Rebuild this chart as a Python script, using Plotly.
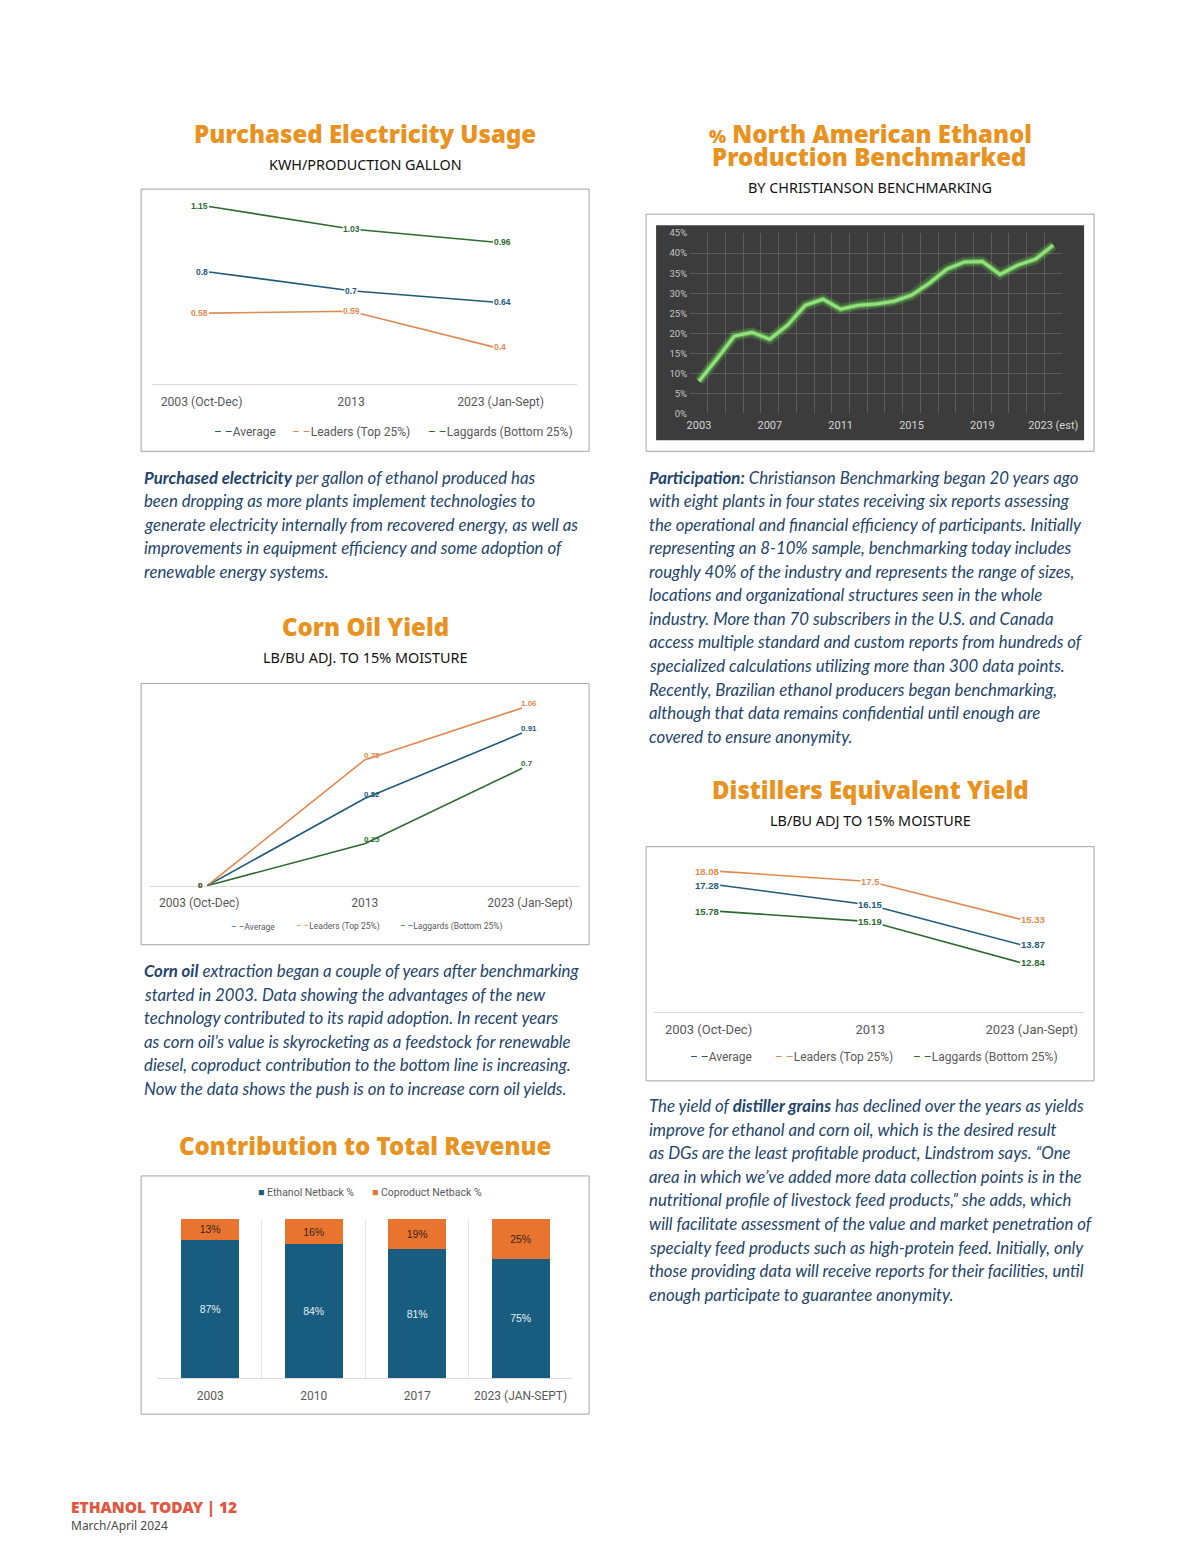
import plotly.graph_objects as go

# figure size and placement calibration (page px -> figure paper coords)
OX, OY = 8, 8
FW, FH = 1184, 1537
SX, CX = 0.984, 3.0
SY, CY = 0.992, 7.1

# ---------------- data ----------------
series_names = ["Average", "Leaders (Top 25%)", "Laggards (Bottom 25%)"]

elec_cats = ["2003 (Oct-Dec)", "2013", "2023 (Jan-Sept)"]
elec_avg = [0.8, 0.7, 0.64]
elec_leaders = [0.58, 0.59, 0.4]
elec_laggards = [1.15, 1.03, 0.96]

na_years = [2003, 2004, 2005, 2006, 2007, 2008, 2009, 2010, 2011, 2012, 2013,
            2014, 2015, 2016, 2017, 2018, 2019, 2020, 2021, 2022, 2023]
na_share = [8.0, 13.5, 19.3, 20.2, 18.5, 22.0, 27.0, 28.5, 26.0, 27.0, 27.3,
            28.0, 29.5, 32.5, 36.0, 37.8, 37.9, 34.7, 37.0, 38.5, 42.0]
na_tick_years = [2003, 2007, 2011, 2015, 2019, 2023]
na_tick_labels = ["2003", "2007", "2011", "2015", "2019", "2023 (est)"]
na_pct_ticks = [0, 5, 10, 15, 20, 25, 30, 35, 40, 45]
na_pct_labels = ["0%", "5%", "10%", "15%", "20%", "25%", "30%", "35%", "40%", "45%"]

corn_cats = ["2003 (Oct-Dec)", "2013", "2023 (Jan-Sept)"]
corn_avg = [0, 0.52, 0.91]
corn_leaders = [0, 0.75, 1.06]
corn_laggards = [0, 0.25, 0.7]

dist_cats = ["2003 (Oct-Dec)", "2013", "2023 (Jan-Sept)"]
dist_avg = [17.28, 16.15, 13.87]
dist_leaders = [18.08, 17.5, 15.33]
dist_laggards = [15.78, 15.19, 12.84]

rev_cats = ["2003", "2010", "2017", "2023 (JAN-SEPT)"]
rev_ethanol = [87, 84, 81, 75]
rev_coproduct = [13, 16, 19, 25]
rev_names = ["Ethanol Netback %", "Coproduct Netback %"]

# ---------------- style ----------------
C_AVG = "#1F5A7A"
C_LEAD = "#E08A52"
C_LAG = "#2E6B30"
C_ETH = "#185D7F"
C_COP = "#E8742F"
ORANGE = "#E8921F"
TXT = "#23446B"
GRAY = "#595959"
AX_FONT = "Roboto"
LBL_FONT = "Liberation Sans"
HEAVY = "Noto Sans"


def px(x):
    return ((x - CX) / SX - OX) / FW


def py(y):
    return 1 - ((y - CY) / SY - OY) / FH


def xd(a, b):
    return [px(a), px(b)]


def yd(top, bot):
    return [py(bot), py(top)]


def spread_ticks(cats, spread):
    # Excel spreads the category labels slightly wider than the plotted points
    mid = (len(cats) - 1) / 2
    return [i + spread * (i - mid) for i in range(len(cats))]


fig = go.Figure()
ann = []
shapes = []

# ---------- chart 1: purchased electricity ----------
elec_x = list(range(len(elec_cats)))
for name, vals, col in zip(series_names, [elec_avg, elec_leaders, elec_laggards], [C_AVG, C_LEAD, C_LAG]):
    fig.add_trace(go.Scatter(x=elec_x, y=vals, mode="lines", name=name,
                             line=dict(color=col, width=1.6), xaxis="x", yaxis="y",
                             showlegend=False, hoverinfo="skip"))
    for i, v in zip(elec_x, vals):
        ann.append(dict(x=i, y=v, xref="x", yref="y", text=f"{v:g}", showarrow=False,
                        xanchor=["right", "center", "left"][i], yanchor="middle",
                        font=dict(family=LBL_FONT, size=8.5, color=col, weight="bold"),
                        bgcolor="white" if i == 1 else "rgba(0,0,0,0)", borderpad=0))

# ---------- chart 2: NA ethanol benchmarked ----------
fig.add_trace(go.Scatter(x=na_years, y=na_share, mode="lines", xaxis="x2", yaxis="y2",
                         line=dict(color="rgba(110,235,80,0.22)", width=10), showlegend=False, hoverinfo="skip"))
fig.add_trace(go.Scatter(x=na_years, y=na_share, mode="lines", xaxis="x2", yaxis="y2",
                         line=dict(color="rgba(120,235,90,0.45)", width=5.5), showlegend=False, hoverinfo="skip"))
fig.add_trace(go.Scatter(x=na_years, y=na_share, mode="lines", xaxis="x2", yaxis="y2",
                         line=dict(color="#93E17F", width=3), showlegend=False, hoverinfo="skip"))

# ---------- chart 3: corn oil yield ----------
corn_x = list(range(len(corn_cats)))
for name, vals, col in zip(series_names, [corn_avg, corn_leaders, corn_laggards], [C_AVG, C_LEAD, C_LAG]):
    fig.add_trace(go.Scatter(x=corn_x, y=vals, mode="lines", name=name,
                             line=dict(color=col, width=1.6), xaxis="x3", yaxis="y3",
                             showlegend=False, hoverinfo="skip"))
for name, vals, col in zip(series_names, [corn_avg, corn_leaders, corn_laggards], [C_AVG, C_LEAD, C_LAG]):
    for i, v in zip(corn_x, vals):
        if i == 0:
            ann.append(dict(x=i, y=v, xref="x3", yref="y3", text=f"{v:g}", showarrow=False,
                            xanchor="right", yanchor="middle", xshift=-2,
                            font=dict(family=LBL_FONT, size=8, color=col, weight="bold")))
        else:
            ann.append(dict(x=i, y=v, xref="x3", yref="y3", text=f"{v:g}", showarrow=False,
                            xanchor="left", yanchor="bottom", xshift=-3, yshift=-2,
                            font=dict(family=LBL_FONT, size=8, color=col, weight="bold")))

# ---------- chart 4: distillers equivalent yield ----------
dist_x = list(range(len(dist_cats)))
for name, vals, col in zip(series_names, [dist_avg, dist_leaders, dist_laggards], [C_AVG, C_LEAD, C_LAG]):
    fig.add_trace(go.Scatter(x=dist_x, y=vals, mode="lines", name=name,
                             line=dict(color=col, width=1.6), xaxis="x4", yaxis="y4",
                             showlegend=False, hoverinfo="skip"))
    for i, v in zip(dist_x, vals):
        ann.append(dict(x=i, y=v, xref="x4", yref="y4", text=f"{v:g}", showarrow=False,
                        xanchor=["right", "center", "left"][i], yanchor="middle",
                        font=dict(family=LBL_FONT, size=9.5, color=col, weight="bold"),
                        bgcolor="white" if i == 1 else "rgba(0,0,0,0)", borderpad=0))

# ---------- chart 5: contribution to total revenue ----------
fig.add_trace(go.Bar(x=rev_cats, y=rev_ethanol, name=rev_names[0], marker=dict(color=C_ETH, line=dict(width=0)),
                     xaxis="x5", yaxis="y5", texttemplate="%{y}%", textposition="inside",
                     insidetextanchor="middle", constraintext="none", textangle=0,
                     textfont=dict(family=LBL_FONT, size=10.5, color="#E4EEF4"), showlegend=False, hoverinfo="skip"))
fig.add_trace(go.Bar(x=rev_cats, y=rev_coproduct, name=rev_names[1], marker=dict(color=C_COP, line=dict(width=0)),
                     xaxis="x5", yaxis="y5", texttemplate="%{y}%", textposition="inside",
                     insidetextanchor="middle", constraintext="none", textangle=0,
                     textfont=dict(family=LBL_FONT, size=10.5, color="#3A2417"), showlegend=False, hoverinfo="skip"))

# ---------------- boxes ----------------
for (x0, y0, x1, y1) in [(141, 190, 589, 452), (646, 215, 1094, 452), (141, 684, 589, 945),
                         (646, 847, 1094, 1081), (141, 1176, 589, 1414)]:
    shapes.append(dict(type="rect", xref="paper", yref="paper", x0=px(x0), x1=px(x1), y0=py(y1), y1=py(y0),
                       line=dict(color="#A3A3A3", width=1), fillcolor="rgba(0,0,0,0)", layer="below"))
shapes.append(dict(type="rect", xref="paper", yref="paper", x0=px(656), x1=px(1084), y0=py(441), y1=py(226),
                   line=dict(width=0), fillcolor="#3C3C3C", layer="below"))

# ---------------- titles / text ----------------
def title(text, x, y, size=24):
    ann.append(dict(x=px(x), y=py(y), xref="paper", yref="paper", text=text, showarrow=False,
                    xanchor="center", yanchor="middle",
                    font=dict(family=HEAVY, size=size, color=ORANGE, weight=900)))


def sub(text, x, y):
    ann.append(dict(x=px(x), y=py(y), xref="paper", yref="paper", text=text, showarrow=False,
                    xanchor="center", yanchor="middle",
                    font=dict(family="Noto Sans", size=14.4, color="#111111")))


title("Purchased Electricity Usage", 365, 134)
sub("KWH/PRODUCTION GALLON", 365, 165)
title("<span style='font-size:18px'>%</span> North American Ethanol", 870, 134)
title("Production Benchmarked", 869, 157)
sub("BY CHRISTIANSON BENCHMARKING", 870, 188)
title("Corn Oil Yield", 365, 627)
sub("LB/BU ADJ. TO 15% MOISTURE", 365, 658)
title("Distillers Equivalent Yield", 870, 790)
sub("LB/BU ADJ TO 15% MOISTURE", 870, 821)
title("Contribution to Total Revenue", 365, 1146)


def legend_items(xs, y, size, names, colors):
    for x, n, c in zip(xs, names, colors):
        ann.append(dict(x=px(x), y=py(y), xref="paper", yref="paper", showarrow=False,
                        xanchor="left", yanchor="middle",
                        text=f"<span style='color:{c}'>– –</span>{n}",
                        font=dict(family=AX_FONT, size=size, color=GRAY)))


legend_items([212, 290, 426], 433, 12, series_names, [C_AVG, C_LEAD, C_LAG])
legend_items([229, 294, 398], 927, 8.5, series_names, [C_AVG, C_LEAD, C_LAG])
legend_items([688, 773, 911], 1057, 12, series_names, [C_AVG, C_LEAD, C_LAG])
for x, n, c in zip([256, 370], rev_names, [C_ETH, C_COP]):
    ann.append(dict(x=px(x), y=py(1193), xref="paper", yref="paper", showarrow=False,
                    xanchor="left", yanchor="middle",
                    text=f"<span style='color:{c}'>■</span> {n}",
                    font=dict(family=AX_FONT, size=10.5, color=GRAY)))

paragraphs = [
    (142, 478, [
        "<b>Purchased electricity</b> per gallon of ethanol produced has",
        "been dropping as more plants implement technologies to",
        "generate electricity internally from recovered energy, as well as",
        "improvements in equipment efficiency and some adoption of",
        "renewable energy systems.",
    ]),
    (647, 478, [
        "<b>Participation:</b> Christianson Benchmarking began 20 years ago",
        "with eight plants in four states receiving six reports assessing",
        "the operational and financial efficiency of participants. Initially",
        "representing an 8-10% sample, benchmarking today includes",
        "roughly 40% of the industry and represents the range of sizes,",
        "locations and organizational structures seen in the whole",
        "industry. More than 70 subscribers in the U.S. and Canada",
        "access multiple standard and custom reports from hundreds of",
        "specialized calculations utilizing more than 300 data points.",
        "Recently, Brazilian ethanol producers began benchmarking,",
        "although that data remains confidential until enough are",
        "covered to ensure anonymity.",
    ]),
    (142, 971, [
        "<b>Corn oil</b> extraction began a couple of years after benchmarking",
        "started in 2003. Data showing the advantages of the new",
        "technology contributed to its rapid adoption. In recent years",
        "as corn oil’s value is skyrocketing as a feedstock for renewable",
        "diesel, coproduct contribution to the bottom line is increasing.",
        "Now the data shows the push is on to increase corn oil yields.",
    ]),
    (647, 1106, [
        "The yield of <b>distiller grains</b> has declined over the years as yields",
        "improve for ethanol and corn oil, which is the desired result",
        "as DGs are the least profitable product, Lindstrom says. “One",
        "area in which we’ve added more data collection points is in the",
        "nutritional profile of livestock feed products,” she adds, which",
        "will facilitate assessment of the value and market penetration of",
        "specialty feed products such as high-protein feed. Initially, only",
        "those providing data will receive reports for their facilities, until",
        "enough participate to guarantee anonymity.",
    ]),
]
for x0, y0, lines in paragraphs:
    for k, line in enumerate(lines):
        ann.append(dict(x=px(x0), y=py(y0 + 23.5 * k), xref="paper", yref="paper", showarrow=False,
                        xanchor="left", yanchor="middle", text=line,
                        font=dict(family="Lato", size=16.8, color=TXT, style="italic")))

ann.append(dict(x=px(69), y=py(1507), xref="paper", yref="paper", showarrow=False, xanchor="left",
                yanchor="middle", text="ETHANOL TODAY | 12",
                font=dict(family=HEAVY, size=15.5, color="#E0573F", weight=900)))
ann.append(dict(x=px(69), y=py(1525), xref="paper", yref="paper", showarrow=False, xanchor="left",
                yanchor="middle", text="March/April 2024",
                font=dict(family="Noto Sans", size=12, color="#4A4A4A")))

# ---------------- axes ----------------
line_x = dict(type="linear", tickmode="array", showline=True, linecolor="#D9D9D9", linewidth=1,
              showgrid=False, zeroline=False, ticks="", fixedrange=True, ticklabelstandoff=6)
fig.update_layout(
    xaxis=dict(line_x, domain=xd(152, 577), range=[-0.401, 2.592], anchor="y",
               tickvals=spread_ticks(elec_cats, 0.053), ticktext=elec_cats,
               tickfont=dict(family=AX_FONT, size=12.2, color=GRAY)),
    yaxis=dict(domain=yd(198, 385), range=[0.2, 1.2], visible=False, anchor="x", fixedrange=True),
    xaxis2=dict(domain=xd(690, 1062), range=[2002.5, 2023.5], anchor="y2", tickmode="array",
                tickvals=na_tick_years, ticktext=na_tick_labels, showgrid=False, zeroline=False,
                showline=False, ticks="", tickfont=dict(family=AX_FONT, size=11, color="#D4D4D4"),
                minor=dict(tickmode="array", tickvals=[y - 0.5 for y in na_years] + [na_years[-1] + 0.5],
                           showgrid=True, gridcolor="#5C5C5C", gridwidth=1, ticks=""),
                ticklabelstandoff=4, fixedrange=True),
    yaxis2=dict(domain=yd(234, 414), range=[0, 45], anchor="x2", tickmode="array",
                tickvals=na_pct_ticks, ticktext=na_pct_labels, showgrid=True, gridcolor="#5C5C5C",
                gridwidth=1, zeroline=False, showline=False, ticks="",
                tickfont=dict(family=AX_FONT, size=9.5, color="#C4C4C4"), ticklabelstandoff=2,
                fixedrange=True),
    xaxis3=dict(line_x, domain=xd(150, 580), range=[-0.362, 2.368], anchor="y3",
                tickvals=spread_ticks(corn_cats, 0.05), ticktext=corn_cats,
                tickfont=dict(family=AX_FONT, size=12, color=GRAY)),
    yaxis3=dict(domain=yd(693.3, 886), range=[0, 1.15], visible=False, anchor="x3", fixedrange=True),
    xaxis4=dict(line_x, domain=xd(654, 1085), range=[-0.44, 2.433], anchor="y4",
                tickvals=spread_ticks(dist_cats, 0.077), ticktext=dist_cats,
                tickfont=dict(family=AX_FONT, size=13, color=GRAY)),
    yaxis4=dict(domain=yd(855.7, 1012), range=[10, 19], visible=False, anchor="x4", fixedrange=True),
    xaxis5=dict(type="category", domain=xd(158.3, 572.3), range=[-0.5, 3.5], anchor="y5",
                showline=True, linecolor="#D9D9D9", showgrid=True, gridcolor="#E8E8E8",
                tickson="boundaries", ticks="", zeroline=False,
                tickfont=dict(family=AX_FONT, size=12, color=GRAY), ticklabelstandoff=6,
                fixedrange=True),
    yaxis5=dict(domain=yd(1219, 1378), range=[0, 100], visible=False, anchor="x5", fixedrange=True),
    barmode="stack",
    bargap=0.44,
    width=FW, height=FH,
    margin=dict(l=0, r=0, t=0, b=0),
    paper_bgcolor="white",
    plot_bgcolor="rgba(0,0,0,0)",
    showlegend=False,
    annotations=ann,
    shapes=shapes,
)

fig.write_html("out.html")
